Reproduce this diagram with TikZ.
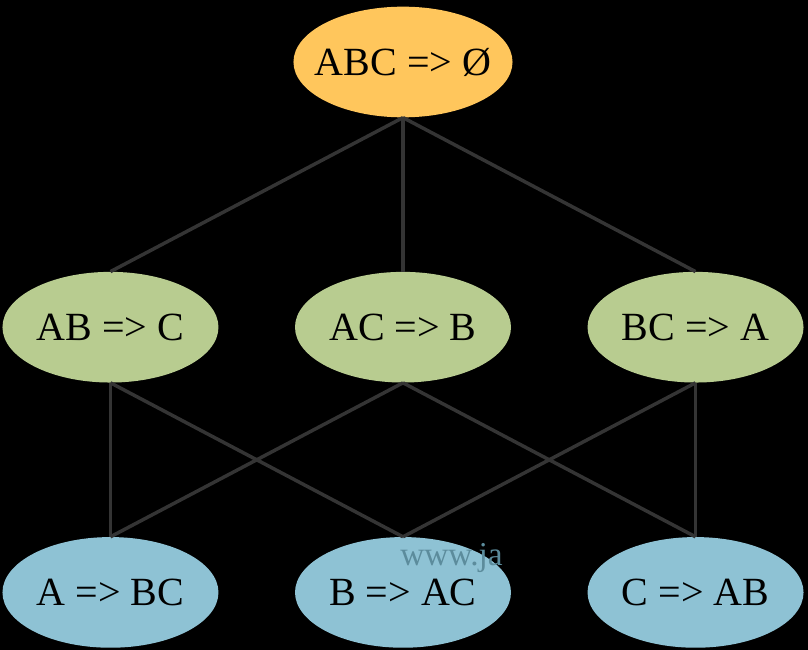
\documentclass[tikz,border=0pt]{standalone}
\usepackage{fontspec}
\setmainfont{Liberation Serif}
\usetikzlibrary{shapes.geometric, positioning}
\definecolor{topfill}{RGB}{255,198,92}
\definecolor{midfill}{RGB}{184,204,144}
\definecolor{lowfill}{RGB}{142,194,212}
\definecolor{edgegray}{RGB}{52,52,52}
\definecolor{markgray}{RGB}{92,140,156}

\begin{document}
\begin{tikzpicture}[
    x=0.75pt, y=-0.75pt,
    node distance=115.5pt and 57pt,
    rule/.style={ellipse, minimum width=162pt, minimum height=83pt, inner sep=0pt, font=\fontsize{30}{36}\selectfont},
    toprule/.style={rule, inner xsep=-8pt, fill=topfill},
    midrule/.style={rule, fill=midfill},
    lowrule/.style={rule, fill=lowfill},
    link/.style={edgegray, line width=2.6pt},
]
    \fill[black] (0,0) rectangle (808,650);
    \useasboundingbox (0,0) rectangle (808,650);

    \node[toprule] (abc) at (403,62) {ABC => Ø};

    \node[midrule, below=of abc] (ac) {AC => B};
    \node[midrule, left=of ac] (ab) {AB => C};
    \node[midrule, right=of ac] (bc) {BC => A};

    \node[lowrule, below=of ac] (b) {B => AC};
    \node[lowrule, below=of ab] (a) {A => BC};
    \node[lowrule, below=of bc] (c) {C => AB};

    \node[anchor=base west, inner sep=0pt, text=markgray, font=\fontsize{25}{30}\selectfont] (mark) at (400,565) {www.ja};

    \draw[link] (abc.south) -- (ab.north);
    \draw[link] (abc.south) -- (ac.north);
    \draw[link] (abc.south) -- (bc.north);

    \draw[link] (ab.south) -- (a.north);
    \draw[link] (ab.south) -- (b.north);
    \draw[link] (ac.south) -- (a.north);
    \draw[link] (ac.south) -- (c.north);
    \draw[link] (bc.south) -- (b.north);
    \draw[link] (bc.south) -- (c.north);
\end{tikzpicture}
\end{document}
